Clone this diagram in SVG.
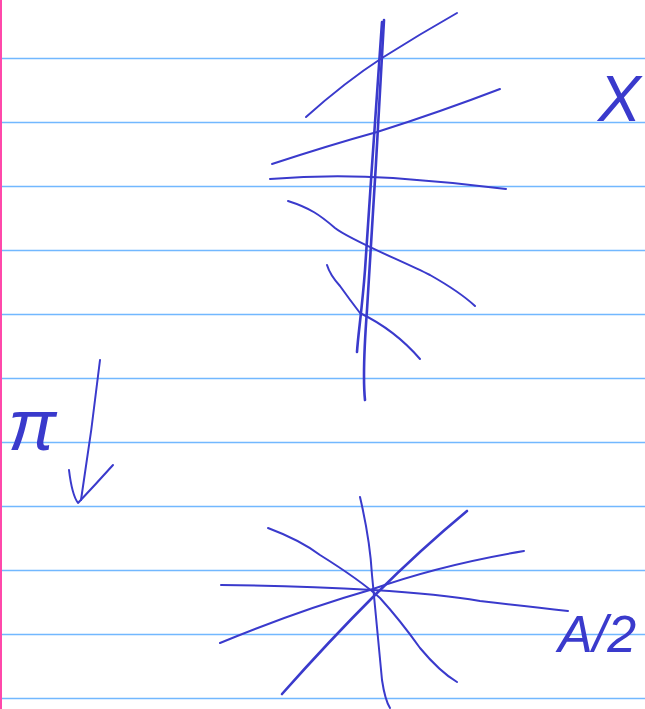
<svg xmlns="http://www.w3.org/2000/svg" width="645" height="709" viewBox="0 0 645 709">
<style>
.rule{stroke:#72b8ff;stroke-width:1.6}
.ink{fill:none;stroke:#3a3acc;stroke-width:2;stroke-linecap:round;stroke-linejoin:round}
.thick{stroke-width:2.6}
.lbl{fill:#3a3acc;font-family:"Liberation Sans",Arial,sans-serif;font-style:italic}
</style>
<rect width="645" height="709" fill="#ffffff"/>
<g id="paper">
<line class="rule" x1="0" y1="58.5" x2="645" y2="58.5"/>
<line class="rule" x1="0" y1="122.5" x2="645" y2="122.5"/>
<line class="rule" x1="0" y1="186.5" x2="645" y2="186.5"/>
<line class="rule" x1="0" y1="250.5" x2="645" y2="250.5"/>
<line class="rule" x1="0" y1="314.5" x2="645" y2="314.5"/>
<line class="rule" x1="0" y1="378.5" x2="645" y2="378.5"/>
<line class="rule" x1="0" y1="442.5" x2="645" y2="442.5"/>
<line class="rule" x1="0" y1="506.5" x2="645" y2="506.5"/>
<line class="rule" x1="0" y1="570.5" x2="645" y2="570.5"/>
<line class="rule" x1="0" y1="634.5" x2="645" y2="634.5"/>
<line class="rule" x1="0" y1="698.5" x2="645" y2="698.5"/>
<line x1="1" y1="0" x2="1" y2="709" stroke="#ff48aa" stroke-width="2"/>
</g>
<g id="top-figure">
<path class="ink thick" d="M382 22 C379 70 370 190 365 270 C362 310 358 335 357 352"/>
<path class="ink thick" d="M384 20 C380 100 372 230 367 310 C364 350 363 380 365 400"/>
<path class="ink" d="M306 117 Q345 82 382 58 Q420 34 457 13"/>
<path class="ink" d="M272 164 Q330 145 377 132 Q440 112 500 89"/>
<path class="ink" d="M270 179 Q330 174 393 178 Q450 182 506 189"/>
<path class="ink" d="M288 201 C310 208 320 215 335 228 C350 240 400 260 430 275 Q460 292 475 306"/>
<path class="ink" d="M327 265 Q330 275 340 286 Q350 300 360 313 Q395 330 420 359"/>
</g>
<g id="arrow">
<path class="ink" d="M100 360 Q92 430 81 500"/>
<path class="ink" d="M69 470 Q72 495 78 503 Q95 485 113 465"/>
</g>
<g id="star">
<path class="ink" d="M360 497 Q370 540 372 575 Q378 640 382 680 Q385 700 390 708"/>
<path class="ink" d="M268 528 Q300 540 320 555 Q360 580 380 598 Q400 620 420 648 Q440 672 457 682"/>
<path class="ink thick" d="M282 694 Q330 640 375 595 Q420 550 467 511"/>
<path class="ink" d="M220 643 Q300 610 370 590 Q440 565 524 551"/>
<path class="ink" d="M221 585 Q300 586 373 590 Q440 594 480 601 Q530 607 568 611"/>
</g>
<g id="labels">
<text class="lbl" x="598" y="121" font-size="64">X</text>
<text class="lbl" x="8" y="450" font-size="72">π</text>
<text class="lbl" x="558" y="652" font-size="52">A/2</text>
</g>
</svg>
